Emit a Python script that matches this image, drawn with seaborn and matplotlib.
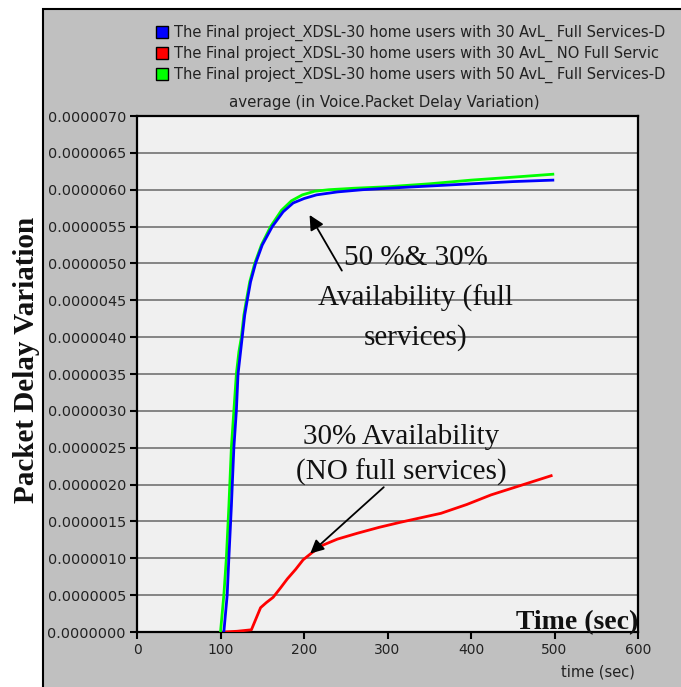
import numpy as np
import pandas as pd
import matplotlib
matplotlib.use("Agg")
import matplotlib.pyplot as plt
from matplotlib.lines import Line2D
from matplotlib.patches import Rectangle
import seaborn as sns

# ---------------- data (values in units of 1e-6) ----------------
blue_t = [104, 106, 108, 110, 113, 116, 119, 121, 124, 126, 129, 132, 136, 142,
          150, 162, 175, 187, 200, 215, 240, 270, 300, 350, 400, 450, 498]
blue_v = [0.0, 0.25, 0.5, 1.0, 1.7, 2.5, 3.0, 3.5, 3.8, 4.0, 4.3, 4.5, 4.75, 5.0,
          5.25, 5.5, 5.7, 5.82, 5.88, 5.93, 5.97, 6.0, 6.02, 6.05, 6.08, 6.11, 6.13]

green_t = [100, 102, 104, 107, 110, 113, 116, 119, 122, 125, 128, 131, 135, 141,
           149, 160, 173, 185, 198, 213, 230, 260, 300, 350, 400, 450, 498]
green_v = [0.0, 0.25, 0.5, 1.0, 1.7, 2.5, 3.0, 3.5, 3.8, 4.0, 4.3, 4.5, 4.75, 5.0,
           5.25, 5.5, 5.72, 5.85, 5.93, 5.98, 6.0, 6.02, 6.04, 6.08, 6.13, 6.17, 6.21]

red_t = [104, 120, 137, 148, 155, 163, 172, 180, 190, 199, 210, 223, 240, 264,
         290, 316, 340, 364, 395, 424, 460, 496]
red_v = [0.0, 0.01, 0.03, 0.33, 0.40, 0.47, 0.60, 0.72, 0.85, 0.98, 1.08, 1.18,
         1.26, 1.34, 1.42, 1.49, 1.55, 1.61, 1.73, 1.86, 1.99, 2.12]

# legend labels as visible in the reference (truncated there by the frame edge)
series_names = [
    "The Final project_XDSL-30 home users with 30 AvL_ Full Services-D",
    "The Final project_XDSL-30 home users with 30 AvL_ NO Full Servic",
    "The Final project_XDSL-30 home users with 50 AvL_ Full Services-D",
]
series_colors = ["#0000ff", "#ff0000", "#00ff00"]

y_ticks = [0.0, 0.5, 1.0, 1.5, 2.0, 2.5, 3.0, 3.5, 4.0, 4.5, 5.0, 5.5, 6.0, 6.5, 7.0]
y_ticklabels = ["0.0000000", "0.0000005", "0.0000010", "0.0000015", "0.0000020",
                "0.0000025", "0.0000030", "0.0000035", "0.0000040", "0.0000045",
                "0.0000050", "0.0000055", "0.0000060", "0.0000065", "0.0000070"]
x_ticks = [0, 100, 200, 300, 400, 500, 600]
x_ticklabels = ["0", "100", "200", "300", "400", "500", "600"]

# ---------------- figure ----------------
fig = plt.figure(figsize=(6.81, 6.87), dpi=100)
fig.patch.set_facecolor("white")
panel = Rectangle((43 / 681, -0.01), 1 - 43 / 681 + 0.02, 1 - 9 / 687 + 0.01,
                  transform=fig.transFigure, facecolor="#c0c0c0",
                  edgecolor="black", linewidth=1.5, zorder=-10)
fig.patches.append(panel)

ax = fig.add_axes([137 / 681, 1 - 632 / 687, (638 - 137) / 681, (632 - 116) / 687])
ax.set_zorder(1)
ax.set_facecolor("#f0f0f0")

frames = []
for name, t, v in zip(series_names, [blue_t, red_t, green_t], [blue_v, red_v, green_v]):
    frames.append(pd.DataFrame({"time": t, "value": v, "series": name}))

for i in [1, 2, 0]:
    df = frames[i]
    sns.lineplot(data=df, x="time", y="value", ax=ax, color=series_colors[i],
                 linewidth=2.0, legend=False, zorder=3)

ax.set_xlim(0, 600)
ax.set_ylim(0, 7.0)
ax.set_xticks(x_ticks)
ax.set_xticklabels(x_ticklabels, fontsize=10, color="#222222")
ax.set_yticks(y_ticks)
ax.set_yticklabels(y_ticklabels, fontsize=10.4, color="#222222")
ax.tick_params(axis="both", direction="out", length=5, width=1.5, color="black", pad=3)
ax.set_xlabel("")
ax.set_ylabel("")
ax.grid(axis="y", color="#858585", linewidth=1.4)
ax.grid(axis="x", visible=False)
ax.set_axisbelow(True)
for s in ax.spines.values():
    s.set_color("black")
    s.set_linewidth(1.6)

# bold serif labels placed inside/near the plot
ax.text(600, 0.04, "Time (sec)", ha="right", va="baseline", fontsize=20,
        fontweight="bold", family="Liberation Serif", color="#111111", zorder=5)
fig.text(27 / 681, 1 - 360 / 687, "Packet Delay Variation", rotation=90,
         ha="center", va="center", fontsize=21, fontweight="bold",
         family="Liberation Serif", color="#111111")

# small sans labels
fig.text(598 / 681, 1 - 672 / 687, "time (sec)", ha="center", va="center",
         fontsize=10.5, color="#222222")
fig.text(384 / 681, 1 - 103 / 687, "average (in Voice.Packet Delay Variation)",
         ha="center", va="center", fontsize=10.8, color="#222222")

# annotations
ann_font = 21
ax.text(334, 5.07, "50 %& 30%", ha="center", va="center", fontsize=ann_font,
        family="Liberation Serif", color="#111111", zorder=6)
ax.text(334, 4.53, "Availability (full", ha="center", va="center", fontsize=ann_font,
        family="Liberation Serif", color="#111111", zorder=6)
ax.text(334, 4.0, "services)", ha="center", va="center", fontsize=ann_font,
        family="Liberation Serif", color="#111111", zorder=6)
ax.annotate("", xy=(205, 5.69), xytext=(247, 4.87),
            arrowprops=dict(arrowstyle="-|>", color="black", lw=1.3,
                            mutation_scale=22), zorder=6)

ax.text(316, 2.65, "30% Availability", ha="center", va="center", fontsize=ann_font,
        family="Liberation Serif", color="#111111", zorder=6)
ax.text(316, 2.17, "(NO full services)", ha="center", va="center", fontsize=ann_font,
        family="Liberation Serif", color="#111111", zorder=6)
ax.annotate("", xy=(205, 1.04), xytext=(298, 1.99),
            arrowprops=dict(arrowstyle="-|>", color="black", lw=1.3,
                            mutation_scale=20), zorder=6)

# legend at top
handles = [Line2D([], [], linestyle="none", marker="s", markersize=9,
                  markerfacecolor=c, markeredgecolor="black", markeredgewidth=1.0)
           for c in series_colors]
fig.legend(handles, series_names, loc="upper left",
           bbox_to_anchor=(157 / 681, 1 - 25 / 687), frameon=False,
           fontsize=10.5, handlelength=0.7, handletextpad=0.5,
           labelspacing=0.32, borderpad=0, borderaxespad=0, labelcolor="#222222")

fig.savefig("out.png", dpi=100)
